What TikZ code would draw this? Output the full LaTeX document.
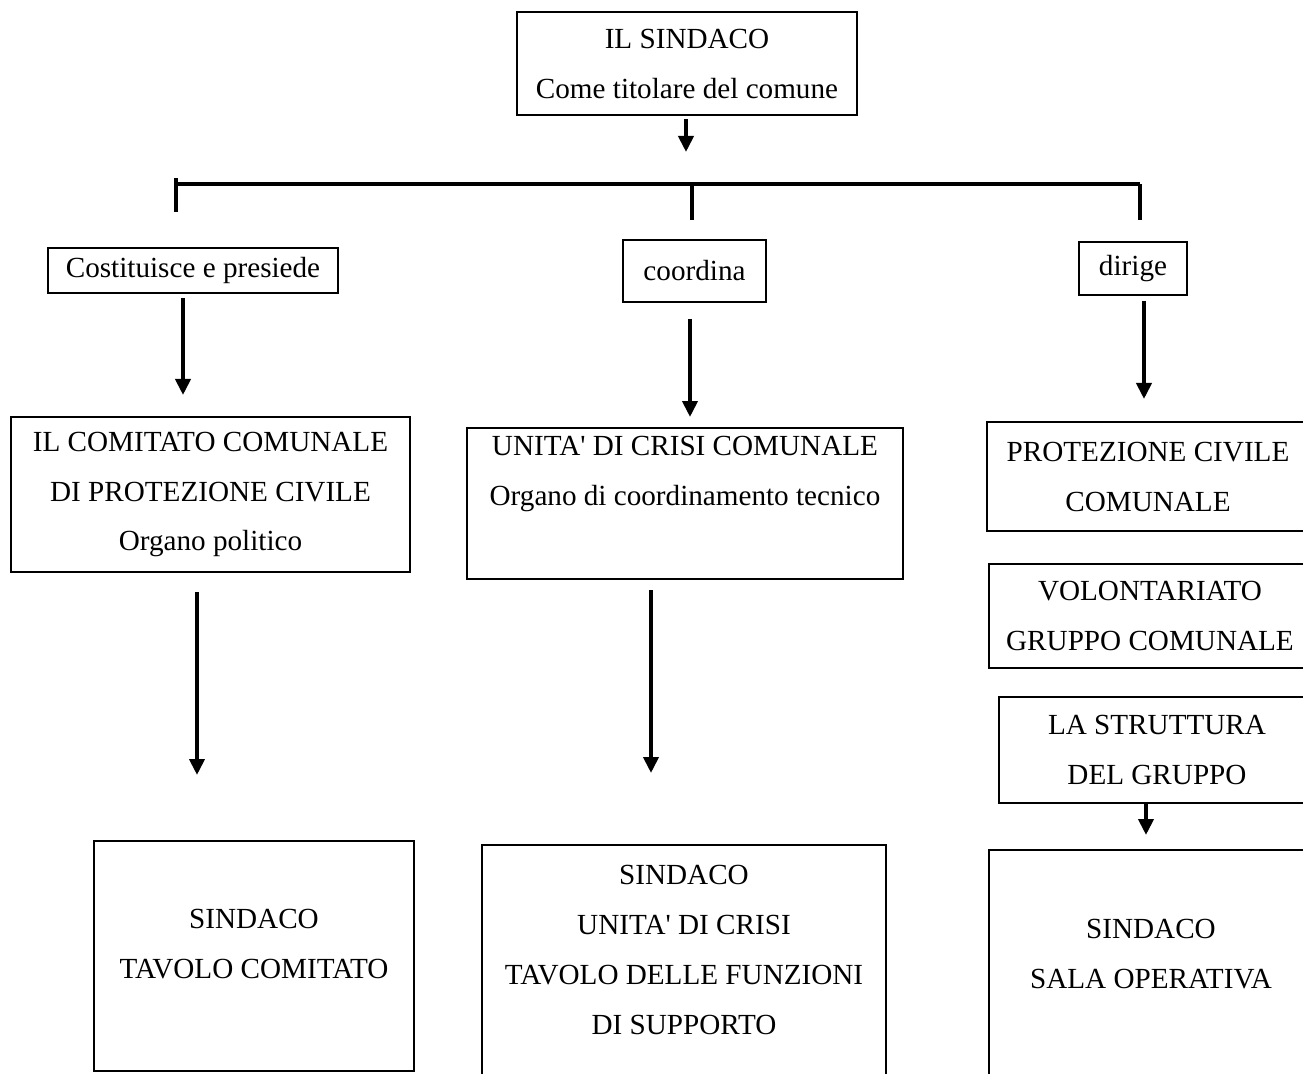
\documentclass[tikz,border=0pt]{standalone}
\usepackage{fontspec}
\setmainfont{Liberation Serif}
\usetikzlibrary{arrows.meta}
\newcommand\straightq{\XeTeXglyph\XeTeXcharglyph"27\relax}

\begin{document}
\begin{tikzpicture}[x=0.02cm, y=-0.02cm,
    box/.style={draw, line width=1.1pt, align=center, inner sep=0pt,
        font=\fontsize{16.6}{28.45}\selectfont},
    arr/.style={line width=2.2pt, -{Triangle[length=0.32cm, width=0.3cm]}},
    bar/.style={line width=2.3pt}]
    \useasboundingbox (0,0) rectangle (1303,1074);
    \clip (0,0) rectangle (1303,1074);
    \node[box, minimum width=6.8cm, minimum height=2.06cm] (sindaco) at (687,63.5) {IL SINDACO\\Come titolare del comune};
    \node[box, minimum width=5.8cm, minimum height=0.9cm] (costituisce) at (193,270.5) {Costituisce e presiede};
    \node[box, minimum width=2.86cm, minimum height=1.24cm] (coordina) at (694.5,271) {coordina};
    \node[box, minimum width=2.16cm, minimum height=1.06cm] (dirige) at (1133,268.5) {dirige};
    \node[box, minimum width=7.98cm, minimum height=3.1cm] (comitato) at (210.5,494.5) {IL COMITATO COMUNALE\\DI PROTEZIONE CIVILE\\Organo politico};
    \node[box, minimum width=8.72cm, minimum height=3.02cm] (unita) at (685,503.5) {UNITA\straightq{} DI CRISI COMUNALE\\Organo di coordinamento tecnico\\\strut};
    \node[box, minimum width=6.44cm, minimum height=2.18cm] (protciv) at (1148,476.5) {PROTEZIONE CIVILE\\COMUNALE};
    \node[box, minimum width=6.44cm, minimum height=2.08cm] (volont) at (1150,616) {VOLONTARIATO\\GRUPPO COMUNALE};
    \node[box, minimum width=6.32cm, minimum height=2.12cm] (struttura) at (1157,750) {LA STRUTTURA\\DEL GRUPPO};
    \node[box, minimum width=6.4cm, minimum height=4.6cm] (tavcomitato) at (254,956) {SINDACO\\TAVOLO COMITATO\\[-0.52cm]\mbox{}};
    \node[box, minimum width=8.08cm, minimum height=4.7cm] (tavfunzioni) at (684,962.5) {SINDACO\\UNITA\straightq{} DI CRISI\\TAVOLO DELLE FUNZIONI\\DI SUPPORTO\\[-0.5cm]\mbox{}};
    \node[box, minimum width=6.48cm, minimum height=4.6cm] (salaop) at (1151,965) {SINDACO\\SALA OPERATIVA\\[-0.56cm]\mbox{}};
    \coordinate (tip0) at (686,152);
    \coordinate (barL) at (176,184);
    \coordinate (barM) at (692,184);
    \coordinate (barR) at (1140,184);
    \coordinate (tickL) at (176,212);
    \coordinate (tickM) at (692,220);
    \coordinate (tickR) at (1140,220);
    \coordinate (tip1) at (183,395);
    \coordinate (tip2) at (690,417);
    \coordinate (tip3) at (1144,399);
    \coordinate (tip4) at (197,775);
    \coordinate (tip5) at (651,773);
    \coordinate (tip6) at (1146,835);
    \draw[arr, shorten <=0.06cm] (sindaco.south -| tip0) -- (tip0);
    \draw[bar] (barL) -- (barR);
    \draw[bar] ([yshift=0.12cm]barL) -- (tickL);
    \draw[bar] (barM) -- (tickM);
    \draw[bar] (barR) -- (tickR);
    \draw[arr, shorten <=0.08cm] (costituisce.south -| tip1) -- (tip1);
    \draw[arr, shorten <=0.32cm] (coordina.south -| tip2) -- (tip2);
    \draw[arr, shorten <=0.1cm] (dirige.south -| tip3) -- (tip3);
    \draw[arr, shorten <=0.38cm] (comitato.south -| tip4) -- (tip4);
    \draw[arr, shorten <=0.2cm] (unita.south -| tip5) -- (tip5);
    \draw[arr] (struttura.south -| tip6) -- (tip6);
\end{tikzpicture}
\end{document}
